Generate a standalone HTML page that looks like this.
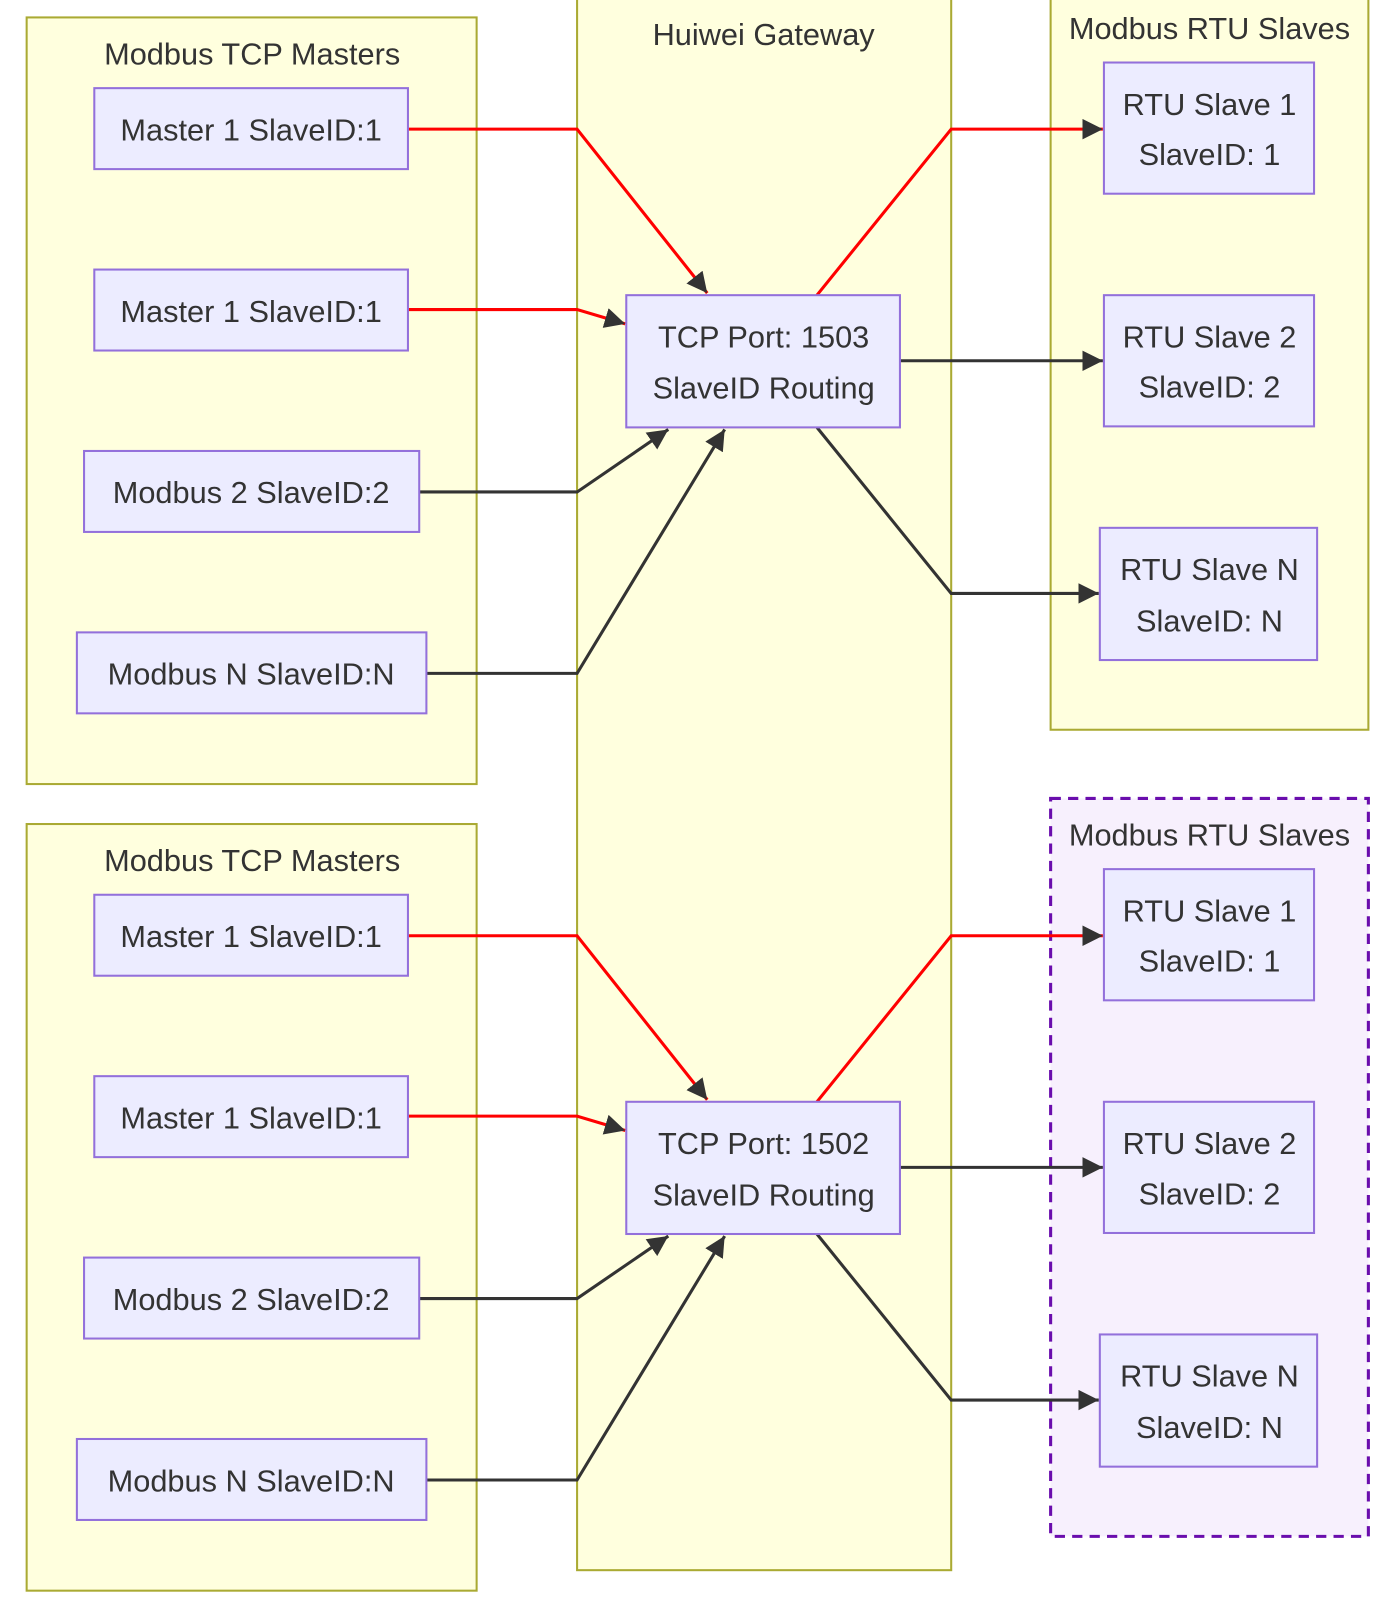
<!DOCTYPE html>
<html><head><meta charset="utf-8"><style>
html,body{margin:0;padding:0;background:#fff;}
svg{display:block;}
text{font-family:"Liberation Sans",sans-serif;fill:#333;font-size:30px;text-anchor:middle;}
.cl{fill:#ffffde;stroke:#aaaa33;stroke-width:2;}
.nd{fill:#ececff;stroke:#9370db;stroke-width:2;}
.r{fill:none;stroke:#ff0000;stroke-width:3;}
.k{fill:none;stroke:#333;stroke-width:3;}
</style></head><body>
<svg width="1394" height="1604" viewBox="0 0 1360 1565" preserveAspectRatio="none">
<defs>
<marker id="a" viewBox="0 0 10 10" refX="9" refY="5" markerWidth="7" markerHeight="7" markerUnits="userSpaceOnUse" orient="auto">
</marker>
<marker id="ar" viewBox="0 0 10 10" refX="10" refY="5" markerWidth="20" markerHeight="20" markerUnits="userSpaceOnUse" orient="auto"><path d="M0,0L10,5L0,10z" fill="#333"/></marker>
</defs>
<rect class="cl" x="563" y="-5" width="365" height="1537"/>
<text x="745" y="44">Huiwei Gateway</text>
<rect class="cl" x="1025" y="-5" width="310" height="717"/>
<text x="1180" y="38">Modbus RTU Slaves</text>
<rect x="1025" y="779" width="310" height="720" fill="#f7f0fd" stroke="#6a0dad" stroke-width="3" stroke-dasharray="10,7"/>
<text x="1180" y="825">Modbus RTU Slaves</text>
<g id="half">
<rect class="cl" x="26" y="17" width="439" height="748"/>
<text x="246" y="63">Modbus TCP Masters</text>
<path class="r" d="M398,126H563L690,286" marker-end="url(#ar)"/>
<path class="r" d="M398,302H563L610,316" marker-end="url(#ar)"/>
<path class="k" d="M409,480H563L652,419" marker-end="url(#ar)"/>
<path class="k" d="M416,657H563L707,419" marker-end="url(#ar)"/>
<path class="r" d="M797,288L928,126H1076" marker-end="url(#ar)"/>
<path class="k" d="M878,352H1076" marker-end="url(#ar)"/>
<path class="k" d="M797,417L928,579H1072" marker-end="url(#ar)"/>
<rect class="nd" x="92" y="86" width="306" height="79"/><text x="245" y="137">Master 1 SlaveID:1</text>
<rect class="nd" x="92" y="263" width="306" height="79"/><text x="245" y="314">Master 1 SlaveID:1</text>
<rect class="nd" x="82" y="440" width="327" height="79"/><text x="245" y="491">Modbus 2 SlaveID:2</text>
<rect class="nd" x="75" y="617" width="341" height="79"/><text x="245" y="668">Modbus N SlaveID:N</text>
<rect class="nd" x="1077" y="61" width="205" height="128"/><text x="1180" y="112">RTU Slave 1</text><text x="1180" y="161">SlaveID: 1</text>
<rect class="nd" x="1077" y="288" width="205" height="128"/><text x="1180" y="339">RTU Slave 2</text><text x="1180" y="388">SlaveID: 2</text>
<rect class="nd" x="1073" y="515" width="212" height="129"/><text x="1180" y="566">RTU Slave N</text><text x="1180" y="616">SlaveID: N</text>
</g>
<rect class="nd" x="611" y="288" width="267" height="129"/><text x="745" y="339">TCP Port: 1503</text><text x="745" y="389">SlaveID Routing</text>
<g transform="translate(0,787)">
<rect class="cl" x="26" y="17" width="439" height="748"/>
<text x="246" y="63">Modbus TCP Masters</text>
<path class="r" d="M398,126H563L690,286" marker-end="url(#ar)"/>
<path class="r" d="M398,302H563L610,316" marker-end="url(#ar)"/>
<path class="k" d="M409,480H563L652,419" marker-end="url(#ar)"/>
<path class="k" d="M416,657H563L707,419" marker-end="url(#ar)"/>
<path class="r" d="M797,288L928,126H1076" marker-end="url(#ar)"/>
<path class="k" d="M878,352H1076" marker-end="url(#ar)"/>
<path class="k" d="M797,417L928,579H1072" marker-end="url(#ar)"/>
<rect class="nd" x="92" y="86" width="306" height="79"/><text x="245" y="137">Master 1 SlaveID:1</text>
<rect class="nd" x="92" y="263" width="306" height="79"/><text x="245" y="314">Master 1 SlaveID:1</text>
<rect class="nd" x="82" y="440" width="327" height="79"/><text x="245" y="491">Modbus 2 SlaveID:2</text>
<rect class="nd" x="75" y="617" width="341" height="79"/><text x="245" y="668">Modbus N SlaveID:N</text>
<rect class="nd" x="1077" y="61" width="205" height="128"/><text x="1180" y="112">RTU Slave 1</text><text x="1180" y="161">SlaveID: 1</text>
<rect class="nd" x="1077" y="288" width="205" height="128"/><text x="1180" y="339">RTU Slave 2</text><text x="1180" y="388">SlaveID: 2</text>
<rect class="nd" x="1073" y="515" width="212" height="129"/><text x="1180" y="566">RTU Slave N</text><text x="1180" y="616">SlaveID: N</text>
<rect class="nd" x="611" y="288" width="267" height="129"/><text x="745" y="339">TCP Port: 1502</text><text x="745" y="389">SlaveID Routing</text>
</g>
</svg>
</body></html>
